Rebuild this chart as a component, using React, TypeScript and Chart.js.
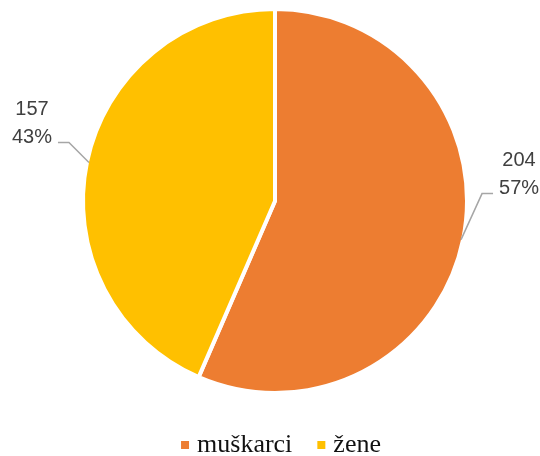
import React, { useEffect, useRef } from 'react';
import { Chart, registerables } from 'chart.js';

Chart.register(...registerables);

const categories = ['muškarci', 'žene'];
const values = [204, 157];
const colors = ['#ED7D31', '#FFC000'];

// label leader layout (elbow offset from slice edge, horizontal tail length)
const elbowOffsets = [
  [21, -46],
  [-20, -20],
];
const tailLengths = [11, -11];

const total = values.reduce((a, b) => a + b, 0);
const percentLabels = values.map((v) => Math.round((v / total) * 100) + '%');

const labelPlugin = {
  id: 'pieLabels',
  afterDraw(chart: any) {
    const ctx = chart.ctx as CanvasRenderingContext2D;
    const meta = chart.getDatasetMeta(0);
    ctx.save();
    meta.data.forEach((arc: any, i: number) => {
      const { x, y, startAngle, endAngle, outerRadius } = arc.getProps(
        ['x', 'y', 'startAngle', 'endAngle', 'outerRadius'],
        true
      );
      const mid = (startAngle + endAngle) / 2;
      const r = outerRadius - 2;
      const p0x = x + Math.cos(mid) * r;
      const p0y = y + Math.sin(mid) * r;
      const ex = p0x + elbowOffsets[i][0];
      const ey = p0y + elbowOffsets[i][1];
      const tx = ex + tailLengths[i];
      ctx.strokeStyle = '#A6A6A6';
      ctx.lineWidth = 1.5;
      ctx.beginPath();
      ctx.moveTo(p0x, p0y);
      ctx.lineTo(ex, ey);
      ctx.lineTo(tx, ey);
      ctx.stroke();

      const cx = tx + (tailLengths[i] > 0 ? 26 : -26);
      ctx.fillStyle = '#404040';
      ctx.font = '20px "Liberation Sans"';
      ctx.textAlign = 'center';
      ctx.textBaseline = 'alphabetic';
      ctx.fillText(String(values[i]), cx, ey - 27.5);
      ctx.fillText(percentLabels[i], cx, ey + 0.5);
    });

    // legend
    ctx.font = '26px "Liberation Serif"';
    ctx.textAlign = 'left';
    ctx.textBaseline = 'alphabetic';
    const box = 8;
    const gapAfterBox = 8;
    const gapItems = 25;
    const widths = categories.map((c) => ctx.measureText(c).width);
    const totalW = widths.reduce((a, w) => a + box + gapAfterBox + w, 0) + gapItems * (categories.length - 1);
    let lx = 281 - totalW / 2;
    const baseY = 452;
    categories.forEach((c, i) => {
      ctx.fillStyle = colors[i];
      ctx.fillRect(lx, baseY - 11, box, box);
      lx += box + gapAfterBox;
      ctx.fillStyle = '#111111';
      ctx.fillText(c, lx, baseY);
      lx += widths[i] + gapItems;
    });
    ctx.restore();
  },
};

export default function App() {
  const ref = useRef<HTMLCanvasElement | null>(null);
  useEffect(() => {
    if (!ref.current) return;
    const chart = new Chart(ref.current, {
      type: 'pie',
      data: {
        labels: categories,
        datasets: [
          {
            data: values,
            backgroundColor: colors,
            borderColor: '#ffffff',
            borderWidth: 4,
          },
        ],
      },
      options: {
        responsive: false,
        animation: false,
        layout: { padding: { left: 81, right: 71, top: 7, bottom: 61 } },
        plugins: {
          legend: { display: false },
          tooltip: { enabled: false },
        },
      },
      plugins: [labelPlugin],
    });
    return () => chart.destroy();
  }, []);
  return (
    <div style={{ position: 'fixed', left: 0, top: 0, width: 540, height: 456, background: '#fff' }}>
      <canvas ref={ref} width={540} height={456} />
    </div>
  );
}
